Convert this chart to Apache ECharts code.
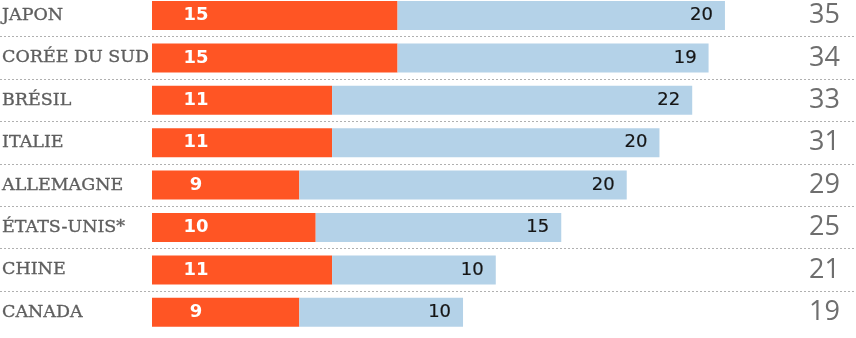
<!DOCTYPE html>
<html>
<head>
<meta charset="utf-8">
<script src="https://cdn.jsdelivr.net/npm/echarts@6/dist/echarts.min.js"></script>
<style>
html,body{margin:0;padding:0;background:#fff;}
#chart{width:856px;height:338px;}
</style>
</head>
<body>
<div id="chart"></div>
<script>
const categories = ['JAPON', 'CORÉE DU SUD', 'BRÉSIL', 'ITALIE', 'ALLEMAGNE', 'ÉTATS-UNIS*', 'CHINE', 'CANADA'];
const orangeValues = [15, 15, 11, 11, 9, 10, 11, 9];
const blueValues = [20, 19, 22, 20, 20, 15, 10, 10];
const totals = [35, 34, 33, 31, 29, 25, 21, 19];

const PX_PER_UNIT = 16.37;
const chart = echarts.init(document.getElementById('chart'), null, {renderer: 'canvas'});
chart.setOption({
  animation: false,
  backgroundColor: '#ffffff',
  grid: {left: 0, top: -5.7, width: 856, height: 339.2, containLabel: false, outerBoundsMode: 'none'},
  xAxis: {
    type: 'value', min: -152 / PX_PER_UNIT, max: (856 - 152) / PX_PER_UNIT, show: false
  },
  yAxis: [
    {
      type: 'category', data: categories, inverse: true,
      axisLine: {show: false}, axisTick: {show: false},
      axisLabel: {
        align: 'left', margin: -2, color: '#5e5e5e',
        fontFamily: 'DejaVu Serif', fontSize: 17.5,
        textBorderColor: '#5e5e5e', textBorderWidth: 0.35
      },
      splitLine: {
        show: true, showMinLine: false, showMaxLine: false,
        lineStyle: {color: '#b0b0b0', type: [2, 2], width: 1}
      }
    },
    {
      type: 'category', data: totals, inverse: true, position: 'right',
      axisLine: {show: false}, axisTick: {show: false},
      axisLabel: {
        align: 'right', margin: -16, color: '#6e6e6e',
        fontFamily: 'Open Sans', fontWeight: 'normal', fontSize: 27,
        padding: [6, 0, 0, 0]
      },
      splitLine: {show: false}
    }
  ],
  series: [
    {
      type: 'bar', stack: 'total', data: orangeValues, barWidth: 29,
      itemStyle: {color: '#ff5524'},
      label: {
        show: true, position: [44, '50%'], align: 'center', verticalAlign: 'middle',
        color: '#ffffff', fontFamily: 'DejaVu Sans', fontWeight: 'bold', fontSize: 18
      }
    },
    {
      type: 'bar', stack: 'total', data: blueValues, barWidth: 29,
      itemStyle: {color: '#b4d2e8'},
      label: {
        show: true, position: 'insideRight', distance: 12,
        color: '#151515', fontFamily: 'DejaVu Sans', fontSize: 18,
        textBorderColor: '#151515', textBorderWidth: 0.2
      }
    }
  ]
});
</script>
</body>
</html>
